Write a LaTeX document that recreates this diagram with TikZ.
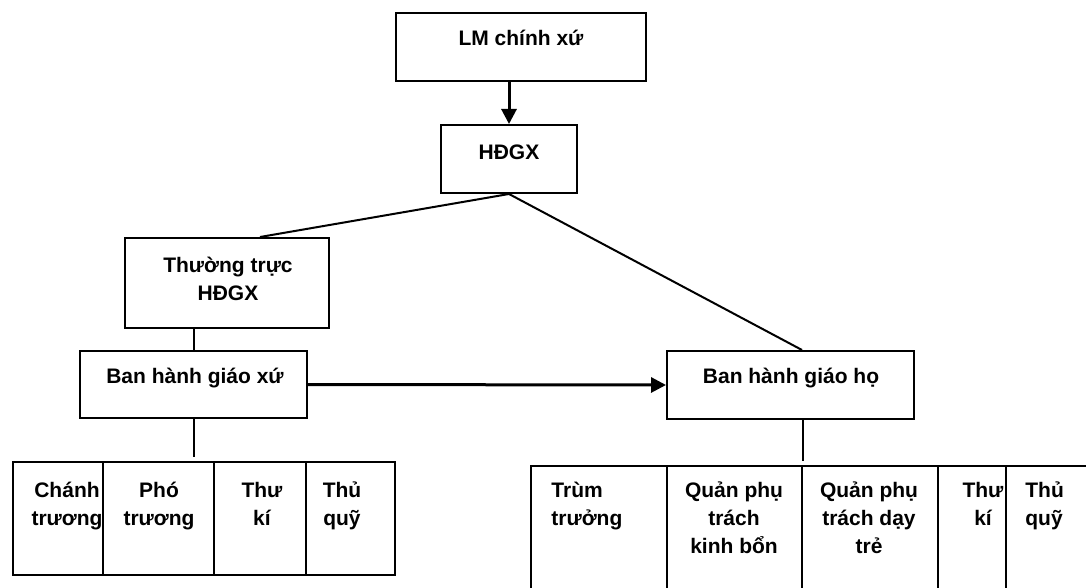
\documentclass[tikz,border=0pt]{standalone}
\usepackage{fontspec}
\setmainfont{Liberation Sans}
\usetikzlibrary{arrows.meta}
\begin{document}
\begin{tikzpicture}[x=0.5pt,y=-0.5pt,
    box/.style={draw=black, line width=1pt, inner sep=0pt},
    txt/.style={inner sep=0pt, align=center, anchor=base, font=\bfseries\fontsize{10.5}{14}\selectfont},
    link/.style={draw=black, line width=1pt},
    arr/.style={draw=black, line width=1.5pt, -{Triangle[length=7.5pt,width=7.5pt]}}]
    \clip (0,0) rectangle (1086,588);
    \fill[white] (0,0) rectangle (1086,588);
    % boxes (base of a text node = baseline of its last line)
    \node[box, minimum width=125pt, minimum height=34pt] (lm) at (521,47) {};
    \node[txt] (lmtxt) at (521,46) {LM chính xứ};
    \node[box, minimum width=68pt, minimum height=34pt] (hdgx) at (509,159) {};
    \node[txt] (hdgxtxt) at (509,160) {HĐGX};
    \node[box, minimum width=102pt, minimum height=45pt] (tt) at (227,283) {};
    \node[txt] (tttxt) at (228,300) {Thường trực\\HĐGX};
    \node[box, minimum width=113.5pt, minimum height=33.5pt] (bgx) at (193.5,384.5) {};
    \node[txt] (bgxtxt) at (195,383) {Ban hành giáo xứ};
    \node[box, minimum width=123.5pt, minimum height=34pt] (bgh) at (790.5,385) {};
    \node[txt] (bghtxt) at (791,383) {Ban hành giáo họ};
    % left table
    \node[box, minimum width=45.15pt, minimum height=56.5pt] (lc1) at (57.85,518.5) {};
    \node[box, minimum width=55.5pt, minimum height=56.5pt] (lc2) at (158.5,518.5) {};
    \node[box, minimum width=46pt, minimum height=56.5pt] (lc3) at (260,518.5) {};
    \node[box, minimum width=44.5pt, minimum height=56.5pt] (lc4) at (350.5,518.5) {};
    \node[txt] (lt1) at (67,525) {Chánh\\trương};
    \node[txt] (lt2) at (159,525) {Phó\\trương};
    \node[txt] (lt3) at (262,525) {Thư\\kí};
    \node[txt] (lt4) at (342,525) {Thủ\\quỹ};
    % right table
    \node[box, minimum width=68pt, minimum height=67pt] (rc1) at (599,533) {};
    \node[box, minimum width=67.5pt, minimum height=67pt] (rc2) at (734.5,533) {};
    \node[box, minimum width=68pt, minimum height=67pt] (rc3) at (870,533) {};
    \node[box, minimum width=34pt, minimum height=67pt] (rc4) at (972,533) {};
    \node[box, minimum width=47pt, minimum height=67pt] (rc5) at (1053,533) {};
    \node[txt, anchor=base west, align=left] (rt1) at (551,525) {Trùm\\trưởng};
    \node[txt] (rt2) at (734,553) {Quản phụ\\trách\\kinh bổn};
    \node[txt] (rt3) at (869,553) {Quản phụ\\trách dạy\\trẻ};
    \node[txt] (rt4) at (983,525) {Thư\\kí};
    \node[txt, anchor=base west, align=left] (rt5) at (1025,525) {Thủ\\quỹ};
    % connectors
    \draw[arr] (hdgx.north |- lm.south) -- (hdgx.north);
    \draw[link] (hdgx.south) -- ([xshift=16.5pt]tt.north);
    \draw[link] (hdgx.south) -- ([xshift=5.75pt]bgh.north);
    \draw[link] (bgx.north |- tt.south) -- (bgx.north);
    \draw[arr] (bgx.east) -- (bgh.west);
    \draw[link, shorten >=2pt] (bgx.south) -- (bgx.south |- lc2.north);
    \draw[link, shorten >=2pt] (rc2.north east |- bgh.south) -- (rc2.north east);
\end{tikzpicture}
\end{document}
